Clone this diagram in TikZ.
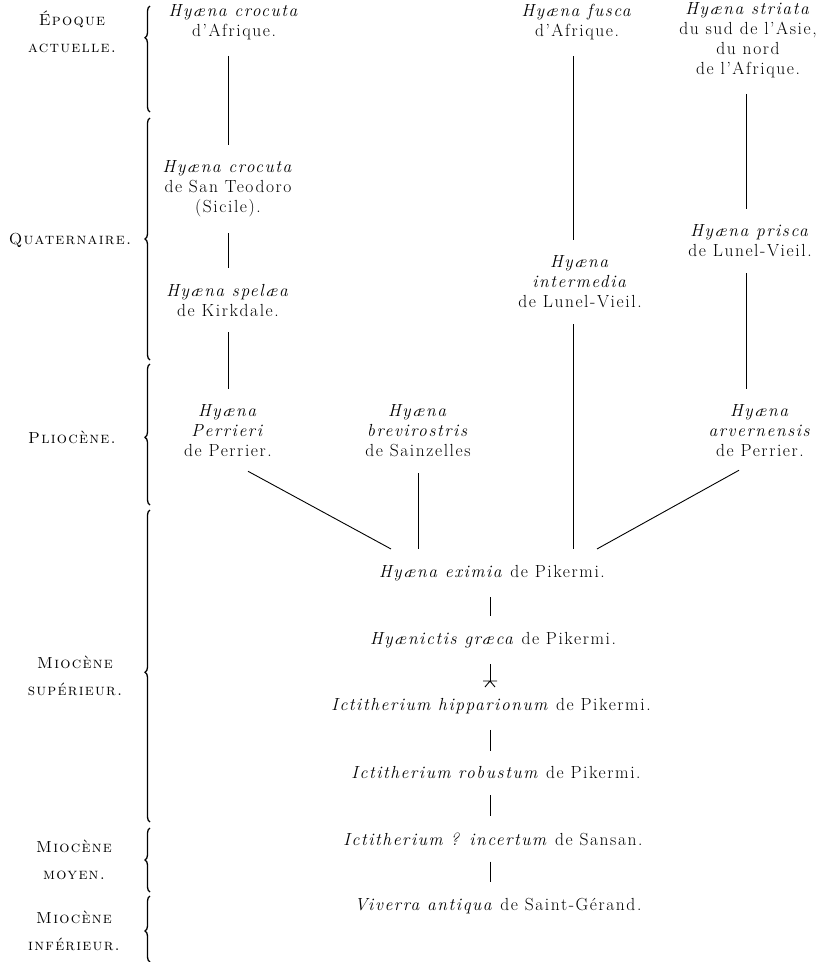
\documentclass[tikz,border=0pt]{standalone}
\usepackage{fontspec}
\setmainfont{Latin Modern Roman}[SmallCapsFont={Latin Modern Roman Caps}]
\usetikzlibrary{calc,decorations.pathreplacing}

\begin{document}
\begin{tikzpicture}[x=1pt,y=-1pt]
		\tikzstyle{every node}+=[inner sep=0pt]
		\tikzstyle{taxon}=[align=center,font=\fontsize{17.5}{20}\selectfont\addfontfeatures{LetterSpace=9}]
		\tikzstyle{epoch}=[align=center,font=\fontsize{16}{27}\selectfont\addfontfeatures{LetterSpace=8}\scshape]
		\tikzstyle{link}=[line width=0.9pt,shorten <=16pt,shorten >=16pt]
		\tikzstyle{period}=[line width=1.3pt,decorate]
		\useasboundingbox (0,0) rectangle (825,962);
		% epochs
		\node [epoch] (actuel) at (72,32) {Époque\\actuelle.};
		\node [epoch] (quater) at (70,240) {Quaternaire.};
		\node [epoch] (plio) at (72,437) {Pliocène.};
		\node [epoch] (miosup) at (75,676) {Miocène\\supérieur.};
		\node [epoch] (miomoy) at (74,860) {Miocène\\moyen.};
		\node [epoch] (mioinf) at (74,931) {Miocène\\inférieur.};
		\draw [period,decoration={brace,mirror,amplitude=5pt,aspect=0.3}] (150,6) -- (150,112);
		\draw [period,decoration={brace,mirror,amplitude=5pt,aspect=0.5}] (150,118) -- (150,360);
		\draw [period,decoration={brace,mirror,amplitude=5pt,aspect=0.52}] (150,364) -- (150,505);
		\draw [period,decoration={brace,mirror,amplitude=5pt,aspect=0.52}] (150,510) -- (150,822);
		\draw [period,decoration={brace,mirror,amplitude=5pt,aspect=0.5}] (150,828) -- (150,892);
		\draw [period,decoration={brace,mirror,amplitude=5pt,aspect=0.53}] (150,896) -- (150,962);
		% hyenas
		\node [taxon] (crocuta) at (234,22) {\textit{Hyæna crocuta}\\d'Afrique.};
		\node [taxon] (fusca) at (577,22) {\textit{Hyæna fusca}\\d'Afrique.};
		\node [taxon] (striata) at (748,40) {\textit{Hyæna striata}\\du sud de l'Asie,\\du nord\\de l'Afrique.};
		\node [taxon] (teodoro) at (228,189) {\textit{Hyæna crocuta}\\de San Teodoro\\(Sicile).};
		\node [taxon] (spelaea) at (228,300) {\textit{Hyæna spelæa}\\de Kirkdale.};
		\node [taxon] (intermedia) at (580,282) {\textit{Hyæna}\\\textit{intermedia}\\de Lunel-Vieil.};
		\node [taxon] (prisca) at (750,241) {\textit{Hyæna prisca}\\de Lunel-Vieil.};
		\node [taxon] (perrieri) at (228,431) {\textit{Hyæna}\\\textit{Perrieri}\\de Perrier.};
		\node [taxon] (brevirostris) at (418,431) {\textit{Hyæna}\\\textit{brevirostris}\\de Sainzelles};
		\node [taxon] (arvernensis) at (760,431) {\textit{Hyæna}\\\textit{arvernensis}\\de Perrier.};
		\node [taxon] (eximia) at (492,573) {\textit{Hyæna eximia} de Pikermi.};
		\node [taxon] (graeca) at (493,640) {\textit{Hyænictis græca} de Pikermi.};
		\node [taxon] (hipparionum) at (491,706) {\textit{Ictitherium hipparionum} de Pikermi.};
		\node [taxon] (robustum) at (496,773) {\textit{Ictitherium robustum} de Pikermi.};
		\node [taxon] (incertum) at (493,839) {\textit{Ictitherium ? incertum} de Sansan.};
		\node [taxon] (viverra) at (498,906) {\textit{Viverra antiqua} de Saint-Gérand.};
		\coordinate (star) at (490,681);
		% descent
		\draw [link] (crocuta.south -| teodoro.north) -- (teodoro.north);
		\draw [link] (teodoro) -- (spelaea);
		\draw [link] (spelaea) -- (perrieri);
		\draw [link] (fusca.south -| 573,0) -- (intermedia.north -| 573,0);
		\draw [link] (intermedia.south -| 573,0) -- (eximia.north -| 573,0);
		\draw [link] (striata.south -| 746,0) -- (prisca.north -| 746,0);
		\draw [link] (prisca.south -| 746,0) -- (arvernensis.north -| 746,0);
		\draw [link] (brevirostris) -- (brevirostris.south |- eximia.north);
		\draw [line width=0.9pt] ($(perrieri.south)+(20,14)$) -- ($(eximia.north west)+(12,-16)$);
		\draw [line width=0.9pt] ($(arvernensis.south)+(-21,13)$) -- ($(eximia.north east)+(-8,-16)$);
		\draw [link] (eximia.south -| star) -- (graeca.north -| star);
		\draw [link,shorten >=0pt] (graeca.south -| star) -- (star);
		\draw [line width=0.9pt] ($(star)+(-7,0)$) -- ($(star)+(7,0)$) (star) -- ++(-5,6) (star) -- ++(5,6);
		\draw [link] (hipparionum.south -| star) -- (robustum.north -| star);
		\draw [link] (robustum.south -| star) -- (incertum.north -| star);
		\draw [link] (incertum.south -| star) -- (viverra.north -| star);
	\end{tikzpicture}
\end{document}
